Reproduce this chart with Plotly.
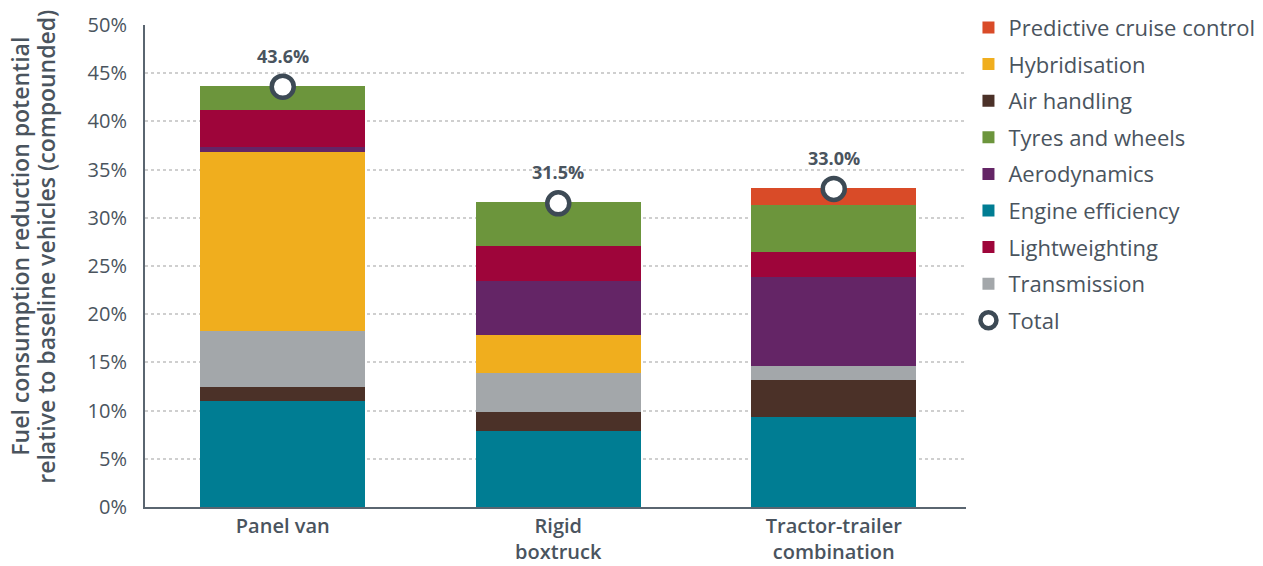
import plotly.graph_objects as go

categories = ["Panel van", "Rigid<br>boxtruck", "Tractor-trailer<br>combination"]

# stack order bottom -> top
engine_efficiency = [11.0, 7.9, 9.35]
air_handling = [1.45, 2.0, 3.8]
transmission = [5.8, 4.05, 1.45]
hybridisation = [18.6, 3.85, 0.0]
aerodynamics = [0.5, 5.6, 9.25]
lightweighting = [3.85, 3.65, 2.6]
tyres_and_wheels = [2.45, 4.6, 4.85]
predictive_cruise = [0.0, 0.0, 1.75]
totals = [43.6, 31.5, 33.0]

y_ticks = [0, 5, 10, 15, 20, 25, 30, 35, 40, 45, 50]
y_title_lines = ["Fuel consumption reduction potential",
                 "relative to baseline vehicles (compounded)"]

series = [
    ("Engine efficiency", engine_efficiency, "#007D93", 6),
    ("Air handling", air_handling, "#4B3128", 3),
    ("Transmission", transmission, "#A3A7AA", 8),
    ("Hybridisation", hybridisation, "#F0AE1E", 2),
    ("Aerodynamics", aerodynamics, "#642566", 5),
    ("Lightweighting", lightweighting, "#9E053A", 7),
    ("Tyres and wheels", tyres_and_wheels, "#6C953C", 4),
    ("Predictive cruise control", predictive_cruise, "#D94B28", 1),
]

FONT = "Open Sans"
TXT = "#4A545E"

fig = go.Figure()
for name, vals, color, rank in series:
    fig.add_trace(go.Bar(
        name=name, x=categories, y=vals, marker=dict(color=color, line=dict(width=0)),
        width=0.6, legendrank=rank, legendgroup=name, hoverinfo="name+y",
    ))

fig.add_trace(go.Scatter(
    name="Total", x=categories, y=totals, mode="markers",
    marker=dict(symbol="circle", size=22, color="white", line=dict(color="#3D4A55", width=4.5)),
    legendrank=9, legendgroup="Total",
))

for c, t in zip(categories, totals):
    fig.add_annotation(x=c, y=t, text=f"<b>{t:.1f}%</b>", showarrow=False,
                       yshift=31, font=dict(family=FONT, size=18, color=TXT))

# y-axis title as two rotated lines
for i, line in enumerate(y_title_lines):
    fig.add_annotation(text=line, xref="paper", yref="paper",
                       x=(20 + 26 * i - 145) / 821, y=0.54,
                       xanchor="center", yanchor="middle", textangle=-90,
                       showarrow=False,
                       font=dict(family=FONT, size=23, color=TXT, weight=600))

fig.update_layout(
    barmode="stack",
    width=1263, height=566,
    margin=dict(l=145, r=297, t=25, b=59, autoexpand=False),
    paper_bgcolor="white", plot_bgcolor="white",
    font=dict(family=FONT, size=20, color=TXT),
    legend=dict(x=1.003, xanchor="left", y=1.038, yanchor="top",
                font=dict(family=FONT, size=22, color=TXT),
                tracegroupgap=5, itemclick=False, bgcolor="rgba(0,0,0,0)",
                maxheight=520),
    showlegend=True,
)
fig.update_xaxes(
    range=[-0.5, 2.48], showline=True, linecolor="#5A6570", linewidth=2,
    showgrid=False, ticks="", automargin=False, ticklabelstandoff=0,
    tickfont=dict(family=FONT, size=20, color=TXT, weight=600),
)
fig.update_yaxes(
    range=[0, 50], tickvals=y_ticks, ticktext=[f"{v}%" for v in y_ticks],
    showline=True, linecolor="#5A6570", linewidth=2,
    showgrid=True, gridcolor="#CFCFCF", griddash="dot", gridwidth=1.5,
    zeroline=False, ticks="", ticklabelstandoff=12, automargin=False,
    tickfont=dict(family=FONT, size=20, color=TXT),
)

fig.write_html("out.html", config={"displayModeBar": False},
               post_script="document.body.style.margin='0';")
